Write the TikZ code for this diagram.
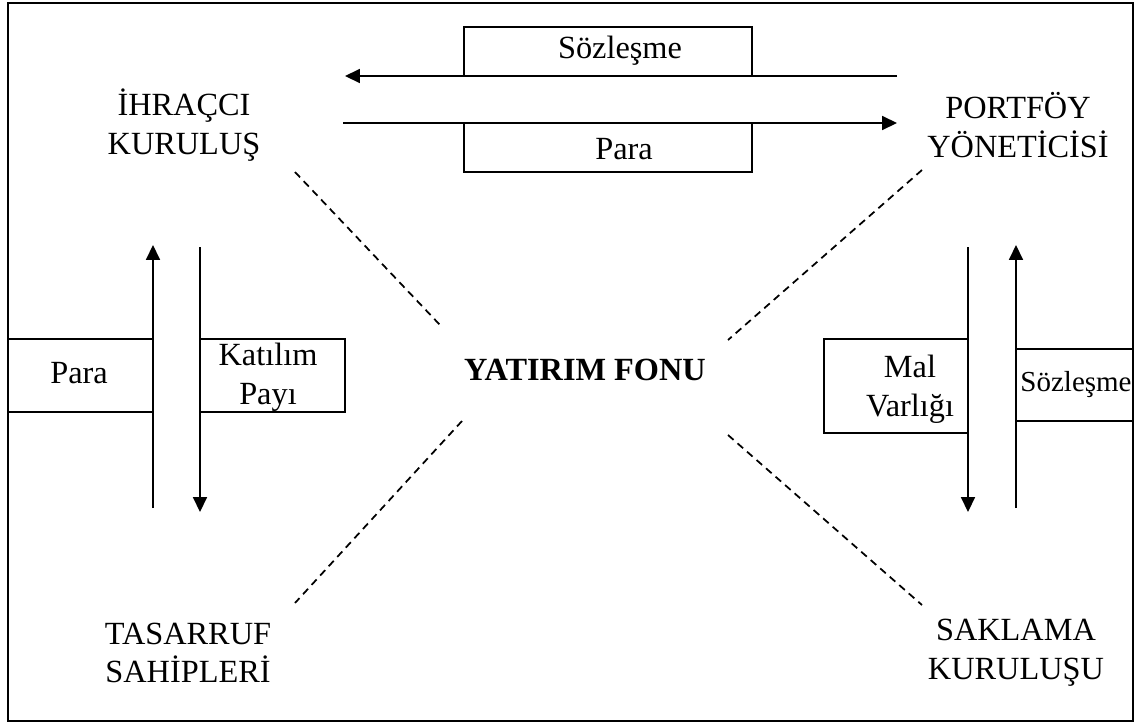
\documentclass[tikz,border=0pt]{standalone}
\usepackage{fontspec}
\setmainfont{Liberation Serif}
\usetikzlibrary{arrows.meta}
\begin{document}
\begin{tikzpicture}[x=0.02cm,y=-0.02cm,
  lbl/.style={font=\fontsize{18.4}{22}\selectfont, align=center, inner sep=0pt},
  small/.style={font=\fontsize{16.5}{20}\selectfont},
  flow/.style={line width=0.85pt, -{Triangle[length=8.5pt,width=8pt]}},
  plain/.style={line width=0.85pt},
  dsh/.style={dash pattern=on 4.2pt off 3pt, line width=1pt}]
\useasboundingbox (0,0) rectangle (1140,724);
\draw[line width=1.3pt] (8,3) rectangle (1133,721);

% entity labels
\node[lbl] (ihr) at (184,125) {İHRAÇCI\\KURULUŞ};
\node[lbl] (port) at (1018,125) {PORTFÖY\\YÖNETİCİSİ};
\node[lbl] (tas) at (188,653) {TASARRUF\\SAHİPLERİ};
\node[lbl] (sak) at (1016,653) {SAKLAMA\\KURULUŞU};
\node[lbl, font=\fontsize{18.4}{22}\selectfont\bfseries] (fon) at (585,370) {YATIRIM FONU};

% endpoints
\coordinate (t1s) at (897,76);  \coordinate (t1e) at (345,76);
\coordinate (t2s) at (343,123); \coordinate (t2e) at (897,123);
\coordinate (l1s) at (153,508); \coordinate (l1e) at (153,245);
\coordinate (l2s) at (200,247); \coordinate (l2e) at (200,512);
\coordinate (r1s) at (968,247); \coordinate (r1e) at (968,512);
\coordinate (r2s) at (1016,508);\coordinate (r2e) at (1016,245);

% boxes
\draw[plain] (464,27) rectangle (752,76);
\draw[plain] (464,123) rectangle (752,172);
\draw[plain] (8,339) rectangle (153,412);
\draw[plain] (200,339) rectangle (345,412);
\draw[plain] (824,339) rectangle (968,433);
\draw[plain] (1016,349) rectangle (1133,421);

% box labels
\node[lbl] (bsoz) at (620,51) {Sözleşme};
\node[lbl] (bpara) at (624,149) {Para};
\node[lbl] (lpara) at (79,373) {Para};
\node[lbl] (lkat) at (268,377) {Katılım\\Payı};
\node[lbl] (rmal) at (910,389) {Mal\\Varlığı};
\node[lbl, small] (rsoz) at (1076,385) {Sözleşme};

% arrows
\draw[flow] (t1s) -- (t1e);
\draw[flow] (t2s) -- (t2e);
\draw[flow] (l1s) -- (l1e);
\draw[flow] (l2s) -- (l2e);
\draw[flow] (r1s) -- (r1e);
\draw[flow] (r2s) -- (r2e);

% dashed links
\coordinate (d1a) at (295,172); \coordinate (d1b) at (440,325);
\coordinate (d2a) at (922,170); \coordinate (d2b) at (728,340);
\coordinate (d3a) at (462,421); \coordinate (d3b) at (295,603);
\coordinate (d4a) at (728,435); \coordinate (d4b) at (922,605);
\draw[dsh] (d1a) -- (d1b);
\draw[dsh] (d2a) -- (d2b);
\draw[dsh] (d3a) -- (d3b);
\draw[dsh] (d4a) -- (d4b);
\end{tikzpicture}
\end{document}
